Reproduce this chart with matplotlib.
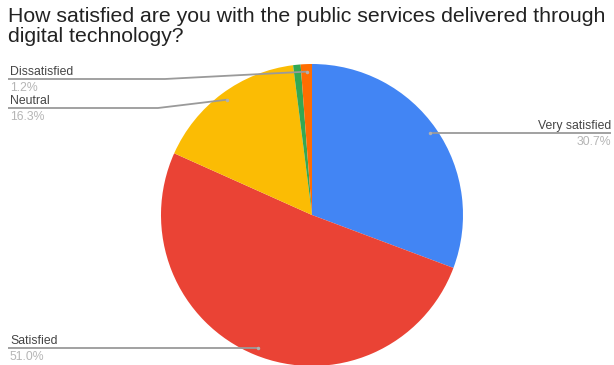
import numpy as np
import matplotlib.pyplot as plt

plt.rcParams['font.family'] = ['Liberation Sans', 'DejaVu Sans']

# Survey answers
labels = ['Very satisfied', 'Satisfied', 'Neutral', 'Very dissatisfied', 'Dissatisfied']
shares = [30.7, 51.0, 16.3, 0.8, 1.2]
colors = ['#4285F4', '#EA4335', '#FBBC04', '#34A853', '#FF6D01']
shown = ['Very satisfied', 'Satisfied', 'Neutral', 'Dissatisfied']

W, H = 614, 365
fig = plt.figure(figsize=(W / 100, H / 100), dpi=100)
ax = fig.add_axes([0, 0, 1, 1])

cx, cy, R = 312, H - 215, 151
wedges, _ = ax.pie(shares, colors=colors, startangle=90, counterclock=False,
                   center=(cx, cy), radius=R,
                   wedgeprops=dict(linewidth=0))
ax.set_xlim(0, W)
ax.set_ylim(0, H)
ax.set_aspect('equal')
ax.axis('off')

# leader line routes: (knee x, line y in image pixels, label side)
layout = {
    'Very satisfied': (None, 134, 'right'),
    'Satisfied': (None, 348, 'left'),
    'Neutral': (158, 108, 'left'),
    'Dissatisfied': (165, 79, 'left'),
}

line_col = '#9a9a9a'
for w, lab, val in zip(wedges, labels, shares):
    if lab not in shown:
        continue
    ang = np.deg2rad((w.theta1 + w.theta2) / 2)
    dx = cx + 0.95 * R * np.cos(ang)
    dy = cy + 0.95 * R * np.sin(ang)
    knee, ly, side = layout[lab]
    ly = H - ly
    end_x = W - 3 if side == 'right' else 8
    if knee is None:
        xs, ys = [dx, end_x], [dy, dy]
        ly = dy
    else:
        xs, ys = [dx, knee, end_x], [dy, ly, ly]
    ax.plot(xs, ys, color=line_col, lw=1.3, solid_capstyle='butt')
    ax.plot(dx, dy, 'o', ms=2.5, color='#b0b0b0', mec='none')
    ha = 'right' if side == 'right' else 'left'
    tx = W - 3 if side == 'right' else 10
    ax.text(tx, ly + 4, lab, ha=ha, va='baseline', fontsize=8.8, color='#444444')
    ax.text(tx, ly - 3, f'{val:.1f}%', ha=ha, va='top', fontsize=8.8, color='#b5b5b5')

fig.text(8 / W, 1 - 16 / H, 'How satisfied are you with the public services delivered through',
         ha='left', va='center', fontsize=15.3, color='#222222')
fig.text(8 / W, 1 - 36 / H, 'digital technology?',
         ha='left', va='center', fontsize=15.3, color='#222222')

fig.savefig('out.png', dpi=100, facecolor='white')
